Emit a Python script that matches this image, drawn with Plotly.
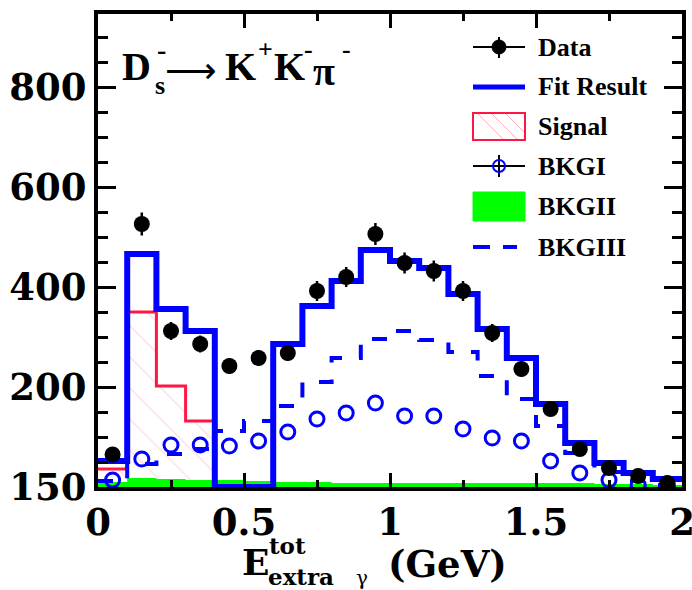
import plotly.graph_objects as go

# ---------------- data ----------------
bin_edges = [round(0.1 * i, 1) for i in range(21)]
bin_centers = [round(0.05 + 0.1 * i, 2) for i in range(20)]

data_vals = [65, 526, 312, 286, 242, 258, 268, 392, 420, 506, 448, 432, 392, 308, 236, 156, 76, 38, 22, 8]
data_err = [8, 23, 18, 17, 16, 16, 16, 20, 20, 22, 21, 21, 20, 18, 15, 12, 9, 6, 5, 3]
fit_vals = [52, 466, 356, 312, 0, 0, 286, 362, 412, 474, 452, 438, 386, 316, 258, 166, 88, 48, 28, 16]
signal_vals = [36, 350, 202, 132, 0, 0, 0, 0, 0, 0, 0, 0, 0, 0, 0, 0, 0, 0, 0, 0]
bkg1_vals = [14, 56, 84, 84, 82, 92, 110, 136, 148, 168, 142, 142, 116, 98, 92, 52, 28, 14, 4, 2]
bkg2_vals = [10, 18, 16, 14, 14, 12, 10, 10, 8, 8, 8, 8, 8, 8, 8, 8, 8, 6, 6, 4]
bkg3_vals = [12, 46, 66, 76, 112, 132, 162, 210, 258, 296, 312, 294, 270, 222, 176, 122, 68, 30, 12, 4]

y_tickvals = [0, 200, 400, 600, 800]
y_ticktext = ["150", "200", "400", "600", "800"]
x_tickvals = [0, 0.5, 1, 1.5, 2]
x_ticktext = ["0", "0.5", "1", "1.5", "2"]

legend_labels = ["Data", "Fit Result", "Signal", "BKGI", "BKGII", "BKGIII"]

# ---------------- geometry helpers ----------------
W, H = 692, 590
L, R, T, B = 98, 10, 14, 103
PW, PH = W - L - R, H - T - B


def px(x):
    return (x - L) / PW


def py(y):
    return (H - B - y) / PH


def step(vals):
    return bin_edges, list(vals) + [vals[-1]]


BLUE = "#0000ff"
RED = "#ff1744"
GREEN = "#00ff00"

fig = go.Figure()

# Signal (hatched)
sx, sy = step(signal_vals)
fig.add_trace(go.Scatter(
    x=sx, y=sy, mode="lines", line=dict(shape="hv", color=RED, width=3),
    fill="tozeroy", fillcolor="rgba(0,0,0,0)",
    fillpattern=dict(shape="\\", fgcolor="rgba(255,90,120,0.55)", bgcolor="rgba(0,0,0,0)",
                     size=22, solidity=0.05),
))

# BKGII (green fill)
gx, gy = step(bkg2_vals)
fig.add_trace(go.Scatter(
    x=gx, y=gy, mode="lines", line=dict(shape="hv", color=GREEN, width=0),
    fill="tozeroy", fillcolor=GREEN,
))

# BKGIII (dashed blue step)
dx, dy = step(bkg3_vals)
fig.add_trace(go.Scatter(
    x=dx, y=dy, mode="lines", line=dict(shape="hv", color=BLUE, width=4, dash="15px,17px"),
))

# BKGI (open circles)
fig.add_trace(go.Scatter(
    x=bin_centers, y=bkg1_vals, mode="markers",
    marker=dict(symbol="circle-open", size=14, color=BLUE, line=dict(width=3, color=BLUE)),
))

# Fit result
fx, fy = step(fit_vals)
fig.add_trace(go.Scatter(
    x=fx, y=fy, mode="lines", line=dict(shape="hv", color=BLUE, width=6),
))

# Data
fig.add_trace(go.Scatter(
    x=bin_centers, y=data_vals, mode="markers",
    marker=dict(symbol="circle", size=16, color="black"),
    error_y=dict(type="data", array=data_err, color="black", thickness=2.5, width=0),
))

tickfont = dict(family="DejaVu Serif", size=37, color="black", weight="bold")

fig.update_xaxes(
    range=[0, 2], showline=True, linecolor="black", linewidth=4, mirror="ticks",
    ticks="inside", ticklen=14, tickwidth=3, tickcolor="black",
    tickmode="array", tickvals=x_tickvals, ticktext=x_ticktext,
    minor=dict(ticks="inside", ticklen=7, tickwidth=3, tickcolor="black", dtick=0.25, tick0=0),
    tickfont=tickfont, showgrid=False, zeroline=False, automargin=False,
    ticklabeloverflow="allow",
)
fig.update_yaxes(
    range=[0, 946], showline=True, linecolor="black", linewidth=4, mirror="ticks",
    ticks="inside", ticklen=18, tickwidth=3, tickcolor="black",
    tickmode="array", tickvals=y_tickvals, ticktext=y_ticktext,
    minor=dict(ticks="inside", ticklen=10, tickwidth=3, tickcolor="black", dtick=50, tick0=0),
    tickfont=tickfont, showgrid=False, zeroline=False, automargin=False,
    ticklabeloverflow="allow",
)

annotations = []


def txt(s, x, y, size, family="Liberation Serif", bold=True, anchor="left"):
    annotations.append(dict(
        text=s, x=px(x), y=py(y), xref="paper", yref="paper",
        xanchor=anchor, yanchor="middle", showarrow=False,
        font=dict(family=family, size=size, color="black", weight="bold" if bold else "normal"),
    ))


# Title: D_s^- -> K+ K- pi-
txt("D", 120, 66, 40)
txt("s", 153, 85, 26)
txt("-", 155, 50, 28)
txt("\u27f6", 163, 70, 36, family="DejaVu Sans", bold=False)
txt("K", 223, 66, 40)
txt("+", 256, 50, 26)
txt("K", 272, 66, 40)
txt("-", 302, 50, 26)
txt("\u03c0", 311, 71, 40)
txt("-", 340, 50, 26)

# Axis title
txt("E", 240, 562, 36, family="DejaVu Serif")
txt("tot", 267, 545, 23, family="DejaVu Serif")
txt("extra", 266, 576, 23, family="DejaVu Serif")
txt("\u03b3", 354, 578, 20, family="DejaVu Serif", bold=False)
txt("(GeV)", 386, 564, 37, family="DejaVu Serif")

# Legend text
legend_y = [47, 87, 126, 166, 206, 247]
for lab, yy in zip(legend_labels, legend_y):
    txt(lab, 536, yy, 26)

shapes = []


def line(x0, y0, x1, y1, color, width, dash=None):
    d = dict(type="line", xref="paper", yref="paper", x0=px(x0), y0=py(y0), x1=px(x1), y1=py(y1),
             line=dict(color=color, width=width))
    if dash:
        d["line"]["dash"] = dash
    shapes.append(d)


# Data legend glyph
line(473, 47, 525, 47, "black", 2)
line(499, 37, 499, 58, "black", 2)
shapes.append(dict(type="circle", xref="paper", yref="paper", x0=px(492), x1=px(506), y0=py(40), y1=py(54),
                   fillcolor="black", line=dict(color="black", width=1)))
# Fit glyph
line(473, 87, 525, 87, BLUE, 5)
# Signal glyph
for a in (478, 492, 506):
    line(a, 114, min(a + 26, 524), 114 + (min(a + 26, 524) - a), "rgba(255,120,140,0.6)", 1)
shapes.append(dict(type="rect", xref="paper", yref="paper", x0=px(473), x1=px(525), y0=py(113), y1=py(140),
                   line=dict(color=RED, width=2), fillcolor="rgba(0,0,0,0)"))
# BKGI glyph
line(473, 166, 525, 166, "black", 2)
line(499, 155, 499, 177, "black", 2)
shapes.append(dict(type="circle", xref="paper", yref="paper", x0=px(493), x1=px(505), y0=py(160), y1=py(172),
                   line=dict(color=BLUE, width=2), fillcolor="rgba(0,0,0,0)"))
# BKGII glyph
shapes.append(dict(type="rect", xref="paper", yref="paper", x0=px(473), x1=px(525), y0=py(192), y1=py(221),
                   line=dict(color=GREEN, width=1), fillcolor=GREEN))
# BKGIII glyph
line(473, 247, 490, 247, BLUE, 4)
line(503, 247, 517, 247, BLUE, 4)

fig.update_layout(
    width=W, height=H, margin=dict(l=L, r=R, t=T, b=B),
    paper_bgcolor="white", plot_bgcolor="white", showlegend=False,
    annotations=annotations, shapes=shapes,
)

fig.write_html("out.html", config={"displayModeBar": False},
               post_script="document.body.style.margin='0px';document.body.style.overflow='hidden';")
